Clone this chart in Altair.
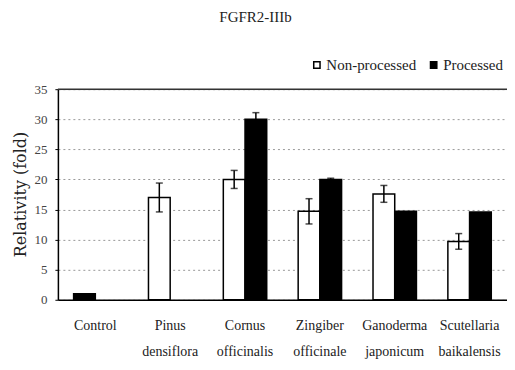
import altair as alt
import pandas as pd

categories = ["Control", "Pinus densiflora", "Cornus officinalis",
              "Zingiber officinale", "Ganoderma japonicum", "Scutellaria baikalensis"]
series_names = ["Non-processed", "Processed"]
nonproc = [1.0, 17.0, 20.0, 14.7, 17.6, 9.7]
nonproc_err = [0.0, 2.4, 1.5, 2.1, 1.4, 1.3]
proc = [None, None, 30.0, 20.0, 14.7, 14.6]
proc_err = [0.0, 0.0, 1.1, 0.2, 0.0, 0.0]
y_ticks = [0, 5, 10, 15, 20, 25, 30, 35]
title_text = "FGFR2-IIIb"
y_title = "Relativity (fold)"

rows = []
for i, c in enumerate(categories):
    for s, vals, errs in ((series_names[0], nonproc, nonproc_err), (series_names[1], proc, proc_err)):
        v = vals[i]
        if v is None:
            continue
        e = errs[i]
        rows.append({"category": c, "series": s, "value": v,
                     "lo": v - e, "hi": v + e, "has_err": e > 0})
df = pd.DataFrame(rows)

FONT = "Liberation Serif"

x_axis = alt.Axis(title=None, labelAngle=0, labelFont=FONT, labelFontSize=14,
                  labelColor="#222", labelPadding=19, labelLineHeight=26,
                  labelExpr="split(datum.label, ' ')", ticks=False,
                  domainColor="black", domainWidth=1.5, labelBaseline="top")
x_scale = alt.Scale(paddingInner=0.42, paddingOuter=0.21)
y_axis = alt.Axis(title=y_title, values=y_ticks, labelOverlap=False,
                  titleFont="DejaVu Serif", titleFontSize=16, titleFontWeight="normal",
                  titleColor="#222", titleX=-37, titleY=105, titleAngle=270,
                  titleAlign="center", titleBaseline="middle",
                  labelFont=FONT, labelFontSize=13, labelColor="#444", labelPadding=8,
                  grid=True, gridColor="#999", gridDash=[2, 3], gridWidth=1,
                  tickSize=3, tickColor="black", domainColor="black", domainWidth=1.5)
y_scale = alt.Scale(domain=[0, 35], nice=False)
xo = alt.XOffset("series:N", sort=series_names)


def xe():
    return alt.X("category:N", sort=categories, scale=x_scale, axis=x_axis)


bars = alt.Chart(df).mark_bar(stroke="black", strokeWidth=1.5).encode(
    x=xe(),
    xOffset=xo,
    y=alt.Y("value:Q", scale=y_scale, axis=y_axis),
    fill=alt.condition(alt.datum.category == "Control", alt.value("black"),
                       alt.Fill("series:N", sort=series_names,
                                scale=alt.Scale(domain=series_names, range=["white", "black"]),
                                legend=alt.Legend(title=None, orient="none", direction="horizontal",
                                                  legendX=252, legendY=-32, symbolType="square",
                                                  symbolSize=40, symbolStrokeColor="black",
                                                  symbolStrokeWidth=1.5, labelFont=FONT,
                                                  labelFontSize=15, labelColor="#222",
                                                  columnPadding=10, labelOffset=2))),
)

err_df = df[df["has_err"]]
err_rule = alt.Chart(err_df).mark_rule(color="black", strokeWidth=1.5).encode(
    x=xe(), xOffset=xo,
    y=alt.Y("lo:Q", scale=y_scale, axis=y_axis), y2="hi:Q")
cap_hi = alt.Chart(err_df).mark_tick(color="black", thickness=1.5, size=7).encode(
    x=xe(), xOffset=xo,
    y=alt.Y("hi:Q", scale=y_scale, axis=y_axis))
cap_lo = alt.Chart(err_df).mark_tick(color="black", thickness=1.5, size=7).encode(
    x=xe(), xOffset=xo,
    y=alt.Y("lo:Q", scale=y_scale, axis=y_axis))

top_rule = alt.Chart(pd.DataFrame({"v": [35]})).mark_rule(color="#333", strokeWidth=1.5).encode(
    y=alt.Y("v:Q", scale=y_scale, axis=y_axis))

chart = alt.layer(bars, err_rule, cap_hi, cap_lo, top_rule).properties(
    width=450, height=211,
    title=alt.TitleParams(title_text, font=FONT, fontSize=15, fontWeight="normal",
                          color="#222", anchor="middle", dx=-27, offset=32),
    autosize=alt.AutoSizeParams(type="none"),
    padding={"left": 50, "top": 81, "right": 0, "bottom": 60},
).configure_view(stroke=None).configure(background="white")

chart.save("out.html", embed_options={"renderer": "svg", "actions": False})
